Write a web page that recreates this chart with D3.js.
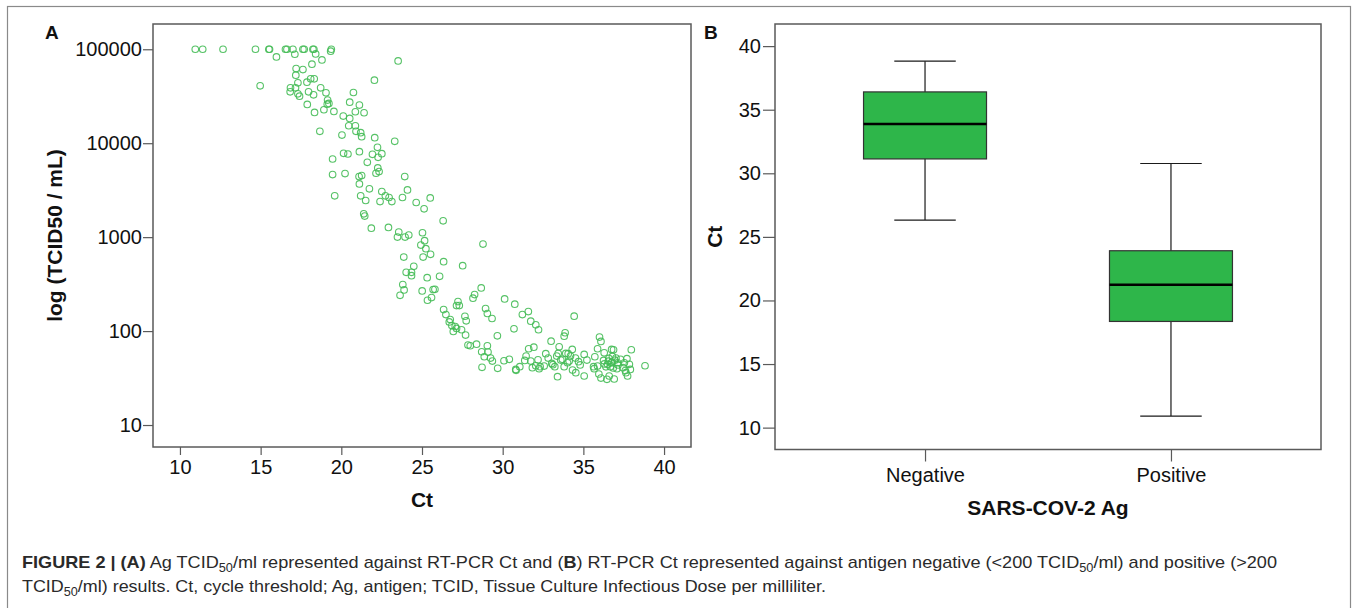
<!DOCTYPE html>
<html>
<head>
<meta charset="utf-8">
<script src="https://cdn.jsdelivr.net/npm/d3@7"></script>
<style>
  body { margin: 0; background: #fff; }
  svg { display: block; font-family: "Liberation Sans", Arial, sans-serif; }
</style>
</head>
<body>
<svg width="1357" height="608"></svg>
<script>
// panel A: [Ct, log10(TCID50/mL)]
const scatterPoints = [
  [10.95, 5.0], [11.41, 5.0], [12.67, 5.0], [14.68, 5.0], [15.51, 5.0], [15.55, 5.0], [16.54, 5.0],
  [16.63, 5.0], [17.0, 5.0], [17.62, 5.0], [17.7, 5.0], [18.24, 5.0], [18.3, 5.0], [19.34, 4.98], [19.38, 5.0],
  [15.98, 4.919], [17.12, 4.947], [18.41, 4.95], [18.8, 4.887], [18.18, 4.841], [17.2, 4.795], [17.62, 4.784],
  [17.18, 4.724], [18.1, 4.685], [18.32, 4.685], [17.31, 4.643], [17.87, 4.65], [14.97, 4.611], [16.85, 4.59],
  [17.16, 4.59], [16.83, 4.547], [17.31, 4.526], [17.41, 4.501], [17.97, 4.547], [18.28, 4.515], [18.72, 4.59],
  [19.05, 4.536], [20.75, 4.54], [22.05, 4.671], [23.52, 4.876], [17.89, 4.413], [19.15, 4.459], [19.23, 4.423],
  [19.13, 4.416], [20.52, 4.437], [21.12, 4.406], [18.34, 4.328], [18.92, 4.356], [19.54, 4.338], [20.12, 4.289],
  [20.52, 4.264], [20.87, 4.335], [21.41, 4.324], [20.46, 4.186], [20.87, 4.186], [20.91, 4.126], [21.2, 4.112],
  [21.26, 4.069], [20.04, 4.087], [18.67, 4.126], [22.07, 4.059], [23.31, 4.02], [22.24, 3.956], [20.14, 3.892],
  [20.41, 3.885], [21.12, 3.91], [21.93, 3.882], [22.28, 3.85], [22.51, 3.889], [19.46, 3.832], [21.61, 3.797],
  [22.26, 3.737], [22.34, 3.698], [22.15, 3.68], [19.46, 3.666], [20.23, 3.677], [21.1, 3.645], [21.26, 3.655],
  [21.12, 3.567], [21.74, 3.514], [19.59, 3.44], [21.2, 3.44], [21.51, 3.39], [22.51, 3.486], [22.73, 3.44],
  [22.96, 3.422], [22.4, 3.379], [23.13, 3.379],
  [23.93, 3.645], [24.1, 3.503], [23.79, 3.422], [24.64, 3.369], [25.51, 3.418], [25.13, 3.301], [26.31, 3.174],
  [24.18, 3.022], [25.03, 3.047], [25.16, 2.962], [24.93, 2.916], [25.24, 2.877], [28.78, 2.926], [21.39, 3.248],
  [21.45, 3.224], [21.86, 3.096], [22.92, 3.103], [23.56, 3.054], [23.48, 3.001], [23.95, 3.001],
  [25.53, 2.817], [25.07, 2.788], [23.87, 2.788], [26.34, 2.739], [27.52, 2.696], [24.49, 2.689], [24.02, 2.626],
  [24.35, 2.626], [24.35, 2.59], [25.32, 2.569], [26.09, 2.583], [23.81, 2.495], [23.89, 2.438], [23.64, 2.381],
  [25.01, 2.427], [25.69, 2.442], [25.8, 2.445], [25.59, 2.357], [25.34, 2.328], [28.67, 2.459], [28.26, 2.389],
  [28.16, 2.35], [30.12, 2.342], [30.75, 2.286], [27.23, 2.314], [27.14, 2.272], [27.31, 2.272], [26.34, 2.229],
  [26.48, 2.176], [28.94, 2.24], [29.05, 2.187], [29.34, 2.134], [27.66, 2.158], [27.74, 2.109], [26.75, 2.123],
  [26.69, 2.098], [26.85, 2.059], [27.06, 2.049], [27.14, 2.028], [30.7, 2.024], [31.22, 2.176], [31.59, 2.208],
  [31.74, 2.105], [32.05, 2.067],
  [34.43, 2.159], [32.22, 2.014], [26.94, 1.996], [27.45, 2.014], [27.7, 1.957], [29.67, 1.95], [33.0, 1.893],
  [33.87, 1.982], [33.81, 1.946], [36.0, 1.936], [36.09, 1.89], [27.85, 1.851], [27.99, 1.844], [28.38, 1.861],
  [29.05, 1.844], [28.7, 1.78], [29.09, 1.776], [28.86, 1.727], [29.25, 1.713], [29.36, 1.681], [28.72, 1.614],
  [29.69, 1.603], [30.08, 1.684], [30.41, 1.699], [30.81, 1.592], [31.06, 1.621], [30.83, 1.582], [31.45, 1.734],
  [31.61, 1.812], [31.93, 1.829], [33.5, 1.833], [37.97, 1.801], [35.88, 1.812], [36.29, 1.769], [36.75, 1.805],
  [36.87, 1.801], [31.37, 1.688], [31.74, 1.681], [32.19, 1.695], [32.05, 1.631], [32.26, 1.599], [32.67, 1.759],
  [32.82, 1.713], [33.11, 1.642], [33.35, 1.734], [33.44, 1.762], [33.6, 1.691], [33.91, 1.762], [34.06, 1.759],
  [34.31, 1.805], [34.2, 1.734], [34.12, 1.681], [34.51, 1.713], [34.7, 1.674], [35.05, 1.752], [35.22, 1.691],
  [35.71, 1.727], [35.63, 1.621], [35.88, 1.628], [36.25, 1.688], [36.58, 1.709], [36.77, 1.67], [37.02, 1.713],
  [37.12, 1.663], [36.5, 1.646], [36.67, 1.621], [36.85, 1.607], [37.08, 1.6], [37.54, 1.663], [37.7, 1.706],
  [37.85, 1.646], [37.91, 1.592], [37.74, 1.522], [37.64, 1.557], [36.6, 1.522], [36.46, 1.486], [36.09, 1.5],
  [35.96, 1.543], [36.91, 1.49], [33.4, 1.515], [34.33, 1.585], [34.53, 1.557], [35.05, 1.522], [35.67, 1.6],
  [38.82, 1.631], [32.57, 1.628], [33.04, 1.656], [33.23, 1.621], [33.81, 1.621], [34.02, 1.663], [31.84, 1.61],
  [32.32, 1.621],
  // overlapping points in the dense blob near Ct 36-38
  [36.55, 1.68], [36.72, 1.66], [36.95, 1.69], [37.15, 1.64], [36.4, 1.62], [37.3, 1.70], [36.8, 1.73],
  [37.45, 1.61], [36.3, 1.65], [37.6, 1.58], [34.8, 1.64], [33.7, 1.70]
];
const ctTicks = [10, 15, 20, 25, 30, 35, 40];
const tcidTicks = [10, 100, 1000, 10000, 100000];

// panel B: box plot summary per antigen result
const agCategories = ['Negative', 'Positive'];
const whiskerLow = [26.32, 10.91];
const quartile1 = [31.13, 18.35];
const medians = [33.88, 21.24];
const quartile3 = [36.40, 23.91];
const whiskerHigh = [38.82, 30.77];
const ctBoxTicks = [10, 15, 20, 25, 30, 35, 40];

const svg = d3.select('svg');
const frameColor = '#5a5a5a';
const textColor = '#111';

// outer figure border
svg.append('rect')
  .attr('x', 7.5).attr('y', 6.5)
  .attr('width', 1343).attr('height', 620)
  .attr('fill', 'none').attr('stroke', '#8a8a8a').attr('stroke-width', 1.2);

const styleAxis = (g, size) => {
  g.select('.domain').remove();
  g.selectAll('line').attr('stroke', frameColor).attr('stroke-width', 1.2);
  g.selectAll('text').attr('fill', textColor).style('font-size', size + 'px');
};

// ---------- panel A ----------
const a = { left: 153, right: 691, top: 24, bottom: 447 };
const xA = d3.scaleLinear().domain([8.33, 41.67]).range([a.left, a.right]);
const yA = d3.scaleLog().domain([Math.pow(10, 0.766), Math.pow(10, 5.269)]).range([a.bottom, a.top]);

svg.append('g')
  .attr('transform', `translate(${a.left},0)`)
  .call(d3.axisLeft(yA).tickValues(tcidTicks).tickFormat(d3.format('d')).tickSize(10).tickPadding(1))
  .call(g => styleAxis(g, 20));

svg.append('g')
  .attr('transform', `translate(0,${a.bottom})`)
  .call(d3.axisBottom(xA).tickValues(ctTicks).tickSize(8).tickPadding(5))
  .call(g => styleAxis(g, 20));

svg.append('g')
  .selectAll('circle')
  .data(scatterPoints)
  .enter().append('circle')
  .attr('cx', d => xA(d[0]))
  .attr('cy', d => yA(Math.pow(10, d[1])))
  .attr('r', 3.3)
  .attr('fill', 'none')
  .attr('stroke', '#44bb55')
  .attr('stroke-opacity', 0.9)
  .attr('stroke-width', 1.1);

svg.append('rect')
  .attr('x', a.left).attr('y', a.top)
  .attr('width', a.right - a.left).attr('height', a.bottom - a.top)
  .attr('fill', 'none').attr('stroke', frameColor).attr('stroke-width', 1.5);

svg.append('text')
  .attr('transform', `translate(62,${(a.top + a.bottom) / 2}) rotate(-90)`)
  .attr('text-anchor', 'middle')
  .attr('fill', textColor)
  .style('font-size', '21px').style('font-weight', 'bold')
  .text('log (TCID50 / mL)');

svg.append('text')
  .attr('x', (a.left + a.right) / 2).attr('y', 507)
  .attr('text-anchor', 'middle')
  .attr('fill', textColor)
  .style('font-size', '21px').style('font-weight', 'bold')
  .text('Ct');

svg.append('text')
  .attr('x', 45).attr('y', 39)
  .attr('fill', textColor)
  .style('font-size', '19px').style('font-weight', 'bold')
  .text('A');

// ---------- panel B ----------
const b = { left: 775, right: 1321, top: 24, bottom: 449.5 };
const xB = d3.scalePoint().domain(agCategories).range([b.left, b.right]).padding(0.61);
const yB = d3.scaleLinear().domain([8.28, 41.74]).range([b.bottom, b.top]);
const boxW = xB.step() * 0.5;

svg.append('g')
  .attr('transform', `translate(${b.left},0)`)
  .call(d3.axisLeft(yB).tickValues(ctBoxTicks).tickSize(12).tickPadding(2))
  .call(g => styleAxis(g, 20));

svg.append('g')
  .attr('transform', `translate(0,${b.bottom})`)
  .call(d3.axisBottom(xB).tickSize(12).tickPadding(6))
  .call(g => styleAxis(g, 20));

const boxes = agCategories.map((c, i) => ({
  cat: c, lo: whiskerLow[i], q1: quartile1[i], med: medians[i], q3: quartile3[i], hi: whiskerHigh[i]
}));

const box = svg.append('g').selectAll('g')
  .data(boxes)
  .enter().append('g');

box.append('line')
  .attr('x1', d => xB(d.cat)).attr('x2', d => xB(d.cat))
  .attr('y1', d => yB(d.hi)).attr('y2', d => yB(d.lo))
  .attr('stroke', '#1a1a1a').attr('stroke-width', 1.2);

box.selectAll('.cap')
  .data(d => [[d.cat, d.lo], [d.cat, d.hi]])
  .enter().append('line')
  .attr('class', 'cap')
  .attr('x1', d => xB(d[0]) - boxW / 4).attr('x2', d => xB(d[0]) + boxW / 4)
  .attr('y1', d => yB(d[1])).attr('y2', d => yB(d[1]))
  .attr('stroke', '#1a1a1a').attr('stroke-width', 1.2);

box.append('rect')
  .attr('x', d => xB(d.cat) - boxW / 2)
  .attr('width', boxW)
  .attr('y', d => yB(d.q3))
  .attr('height', d => yB(d.q1) - yB(d.q3))
  .attr('fill', '#2eb64a')
  .attr('stroke', '#333').attr('stroke-width', 1.2);

box.append('line')
  .attr('x1', d => xB(d.cat) - boxW / 2).attr('x2', d => xB(d.cat) + boxW / 2)
  .attr('y1', d => yB(d.med)).attr('y2', d => yB(d.med))
  .attr('stroke', '#000').attr('stroke-width', 2.6);

svg.append('rect')
  .attr('x', b.left).attr('y', b.top)
  .attr('width', b.right - b.left).attr('height', b.bottom - b.top)
  .attr('fill', 'none').attr('stroke', frameColor).attr('stroke-width', 1.5);

svg.append('text')
  .attr('transform', `translate(722,${(b.top + b.bottom) / 2}) rotate(-90)`)
  .attr('text-anchor', 'middle')
  .attr('fill', textColor)
  .style('font-size', '21px').style('font-weight', 'bold')
  .text('Ct');

svg.append('text')
  .attr('x', (b.left + b.right) / 2).attr('y', 515)
  .attr('text-anchor', 'middle')
  .attr('fill', textColor)
  .style('font-size', '21px').style('font-weight', 'bold')
  .text('SARS-COV-2 Ag');

svg.append('text')
  .attr('x', 704).attr('y', 39)
  .attr('fill', textColor)
  .style('font-size', '19px').style('font-weight', 'bold')
  .text('B');

// ---------- caption ----------
const captionLines = [
  [['FIGURE 2 | (A)', 'b'], [' Ag TCID', ''], ['50', 's'], ['/ml represented against RT-PCR Ct and (', ''], ['B', 'b'],
   [') RT-PCR Ct represented against antigen negative (<200 TCID', ''], ['50', 's'], ['/ml) and positive (>200', '']],
  [['TCID', ''], ['50', 's'], ['/ml) results. Ct, cycle threshold; Ag, antigen; TCID, Tissue Culture Infectious Dose per milliliter.', '']]
];
const captionWidths = [1255, 804];

captionLines.forEach((parts, i) => {
  const t = svg.append('text')
    .attr('x', 22).attr('y', 568 + i * 24)
    .attr('fill', '#2a2a2a')
    .attr('textLength', captionWidths[i])
    .attr('lengthAdjust', 'spacingAndGlyphs')
    .style('font-family', '"Liberation Sans Narrow", "Liberation Sans", Arial, sans-serif')
    .style('font-size', '17px');
  let afterSub = false;
  parts.forEach(p => {
    const s = t.append('tspan').text(p[0]);
    if (p[1] === 'b') s.style('font-weight', 'bold');
    if (p[1] === 's') {
      s.attr('dy', 4).style('font-size', '12px');
      afterSub = true;
    } else if (afterSub) {
      s.attr('dy', -4);
      afterSub = false;
    }
  });
});
</script>
</body>
</html>
